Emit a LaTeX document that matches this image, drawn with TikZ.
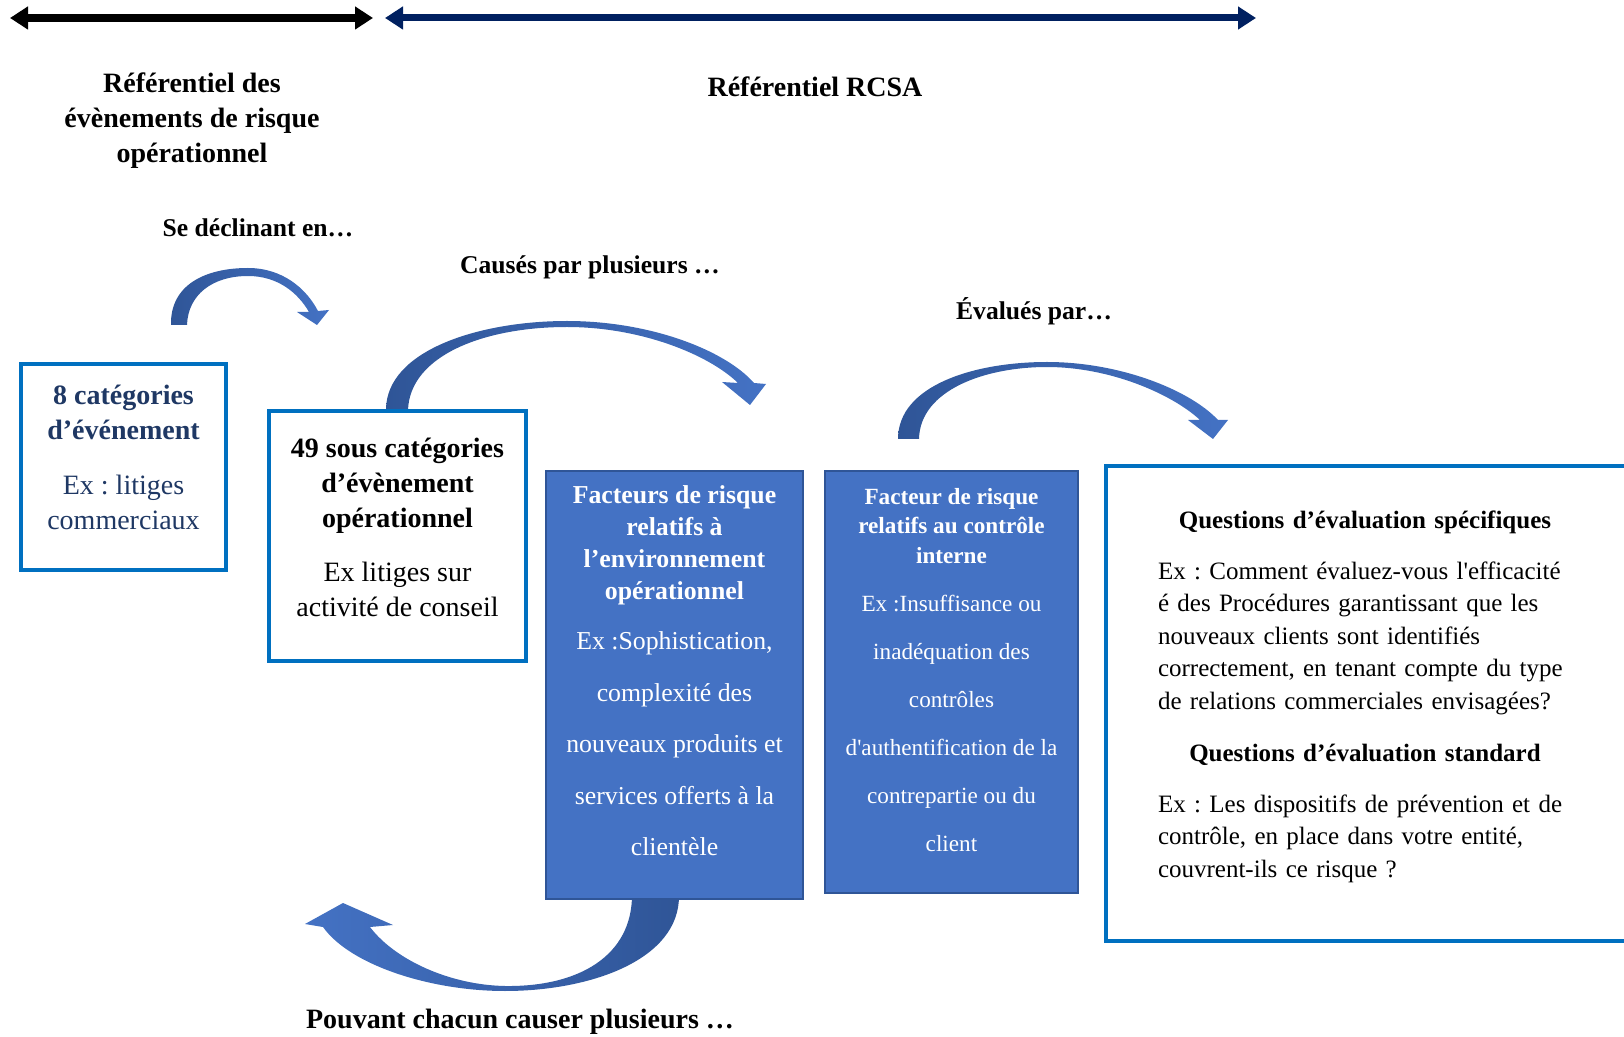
\documentclass[tikz,border=0pt]{standalone}
\usepackage{fontspec}
\setmainfont{Liberation Serif}
\usetikzlibrary{positioning,arrows.meta}

\definecolor{frameblue}{HTML}{0070C0}
\definecolor{boxblue}{HTML}{4472C4}
\definecolor{deepblue}{HTML}{2F5597}
\definecolor{navyline}{HTML}{002060}
\definecolor{navytext}{HTML}{1F3864}

\frenchspacing

\begin{document}
\begin{tikzpicture}[
                    x=0.5pt,
                    y=-0.5pt,
                    frame/.style={draw=frameblue,line width=2pt,fill=white,inner sep=0pt},
                    factor/.style={draw=deepblue,line width=0.7pt,fill=boxblue,inner sep=0pt},
                    head/.style={font=\bfseries\fontsize{14}{17.5}\selectfont,align=center,inner sep=0pt},
                    verb/.style={font=\bfseries\fontsize{12.8}{15}\selectfont,inner sep=0pt},
                    bendarrow/.style={left color=deepblue,right color=boxblue},
                    spanarrow/.style={line width=4pt,{Triangle[width=11pt,length=9pt]}-{Triangle[width=11pt,length=9pt]}}
                ]

                \useasboundingbox (0,0) rectangle (1624,1037);

                % the two referentials
                \coordinate (ev-l)   at (10,18);
                \coordinate (ev-r)   at (373,18);
                \coordinate (rcsa-l) at (385,18);
                \coordinate (rcsa-r) at (1256,18);
                \draw[spanarrow,black] (ev-l) -- (ev-r);
                \draw[spanarrow,navyline,line width=3.5pt] (rcsa-l) -- (rcsa-r);

                \node[head] (ref-ev)   at (192,121) {Référentiel des\\évènements de risque\\opérationnel};
                \node[head] (ref-rcsa) at (815,87)  {Référentiel RCSA};

                % curved arrows
                \shade[bendarrow] (171,325) .. controls (170,285) and (205,268) .. (248,268)
                    .. controls (282,268) and (306,288) .. (318,311) -- (329,310) -- (317,325) -- (297,312) -- (309,312)
                    .. controls (298,293) and (278,276) .. (248,276)
                    .. controls (212,276) and (188,295) .. (187,325) -- cycle;

                \shade[bendarrow] (386,410) .. controls (386,350) and (480,321) .. (567,321)
                    .. controls (650,321) and (725,350) .. (754,383) -- (766,384) -- (750,405) -- (722,382) -- (738,383)
                    .. controls (708,354) and (640,327) .. (567,327)
                    .. controls (485,327) and (410,355) .. (408,410) -- cycle;

                \shade[bendarrow] (898,439) .. controls (898,385) and (975,362) .. (1047,362)
                    .. controls (1120,362) and (1190,390) .. (1218,420) -- (1228,420) -- (1213,439) -- (1188,420) -- (1200,420)
                    .. controls (1172,394) and (1110,367) .. (1047,367)
                    .. controls (985,367) and (920,390) .. (919,439) -- cycle;

                \shade[left color=boxblue,right color=deepblue] (679,895) .. controls (680,960) and (590,991) .. (505,991)
                    .. controls (430,991) and (350,965) .. (323,927) -- (305,924) -- (343,903) -- (393,925) -- (370,927)
                    .. controls (395,960) and (450,985) .. (505,986)
                    .. controls (580,987) and (632,955) .. (632,895) -- cycle;

                \node[verb] (decline) at (258,228)  {Se déclinant en…};
                \node[verb] (cause)   at (590,267)  {Causés par plusieurs …};
                \node[verb] (evalue)  at (1034,311) {Évalués par…};
                \node[verb,font=\bfseries\fontsize{14}{15}\selectfont] (chacun) at (520,1022) {Pouvant chacun causer plusieurs …};

                % boxes
                \node[frame,minimum width=102.5pt,minimum height=103pt]   (cat)        at (123.5,467) {};
                \node[frame,minimum width=128.5pt,minimum height=125pt]   (subcat)     at (397.5,536) {};
                \node[factor,minimum width=128.5pt,minimum height=214pt]  (envfactor)  at (674.5,685) {};
                \node[factor,minimum width=126.5pt,minimum height=211pt]  (ctrlfactor) at (951.5,682) {};
                \node[frame,minimum width=266pt,minimum height=237.5pt]   (questions)  at (1372,703.5) {};

                \node[align=center,text=navytext,font=\fontsize{14}{17.5}\selectfont] (cat-txt) at ([yshift=5pt]cat.center)
                    {\textbf{8 catégories}\\\textbf{d’événement}\\[10pt]Ex : litiges\\commerciaux};
                \node[align=center,font=\fontsize{14}{17.5}\selectfont] (subcat-txt) at ([yshift=4.5pt]subcat.center)
                    {\textbf{49 sous catégories}\\\textbf{d’évènement}\\\textbf{opérationnel}\\[9.5pt]Ex litiges sur\\activité de conseil};
                \node[align=center,text=white,font=\fontsize{12.9}{16}\selectfont] (envfactor-txt) at ([yshift=7pt]envfactor.center)
                    {\textbf{Facteurs de risque}\\\textbf{relatifs à}\\\textbf{l’environnement}\\\textbf{opérationnel}\\[9pt]
                     Ex :Sophistication,\\[9.75pt]complexité des\\[9.75pt]nouveaux produits et\\[9.75pt]services offerts à la\\[9.75pt]clientèle};
                \node[align=center,text=white,font=\fontsize{11.6}{14.75}\selectfont] (ctrlfactor-txt) at ([yshift=6pt]ctrlfactor.center)
                    {\textbf{Facteur de risque}\\\textbf{relatifs au contrôle}\\\textbf{interne}\\[9.25pt]
                     Ex :Insuffisance ou\\[9.25pt]inadéquation des\\[9.25pt]contrôles\\[9.25pt]d\textquotesingle authentification de la\\[9.25pt]contrepartie ou du\\[9.25pt]client};
                \node[text width=207pt,align=left,inner sep=0pt,font=\fontsize{12.5}{16.25}\selectfont] (questions-txt) at ([xshift=-3.5pt,yshift=3.5pt]questions.center)
                    {\makebox[207pt][c]{\bfseries Questions d’évaluation spécifiques}\\[9.25pt]
                     Ex : Comment évaluez-vous l\textquotesingle efficacité\\
                     é des Procédures garantissant que les\\
                     nouveaux clients sont identifiés\\
                     correctement, en tenant compte du type\\
                     de relations commerciales envisagées?\\[9.75pt]
                     \makebox[207pt][c]{\bfseries Questions d’évaluation standard}\\[9.25pt]
                     Ex : Les dispositifs de prévention et de\\
                     contrôle, en place dans votre entité,\\
                     couvrent-ils ce risque ?};
            \end{tikzpicture}
\end{document}
